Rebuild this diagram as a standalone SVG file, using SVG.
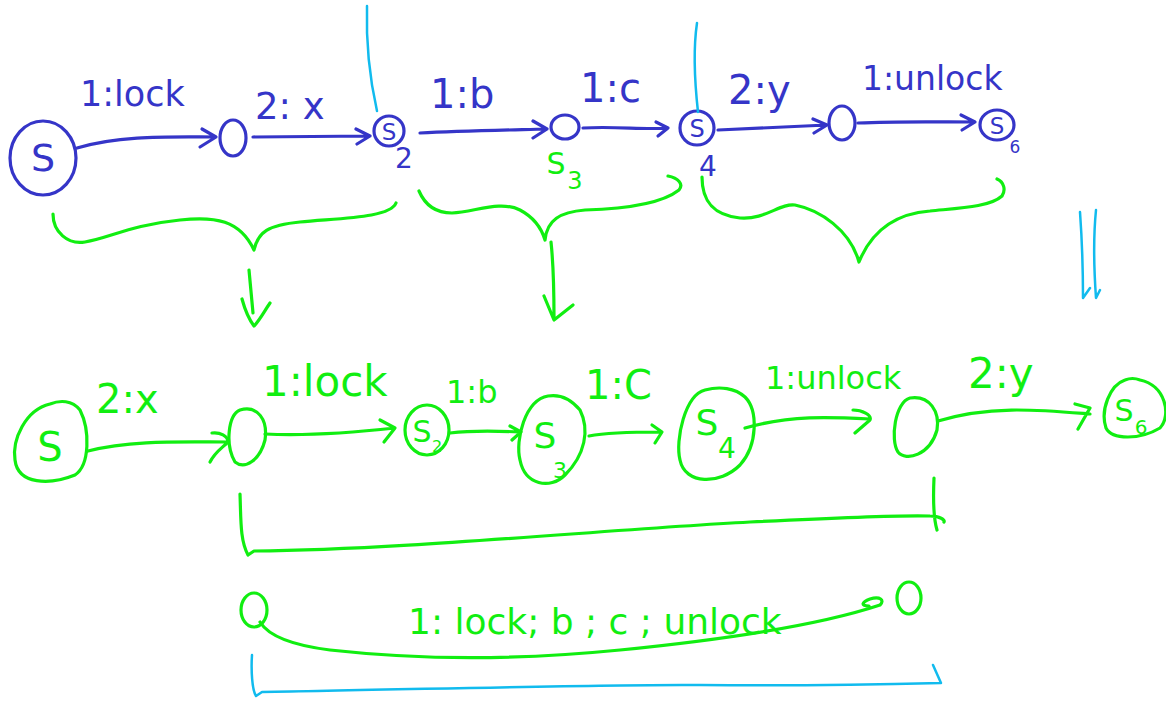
<svg xmlns="http://www.w3.org/2000/svg" width="1166" height="702" viewBox="0 0 1166 702">
<style>
.b{fill:none;stroke:#3535c8;stroke-width:3.2;stroke-linecap:round;stroke-linejoin:round}
.g{fill:none;stroke:#11ee11;stroke-width:3.2;stroke-linecap:round;stroke-linejoin:round}
.c{fill:none;stroke:#11bbee;stroke-width:2.5;stroke-linecap:round;stroke-linejoin:round}
.tb{fill:#3535c8;font-family:"DejaVu Sans",sans-serif}
.tg{fill:#11ee11;font-family:"DejaVu Sans",sans-serif}
</style>
<rect width="1166" height="702" fill="#fff"/>

<!-- top row nodes (blue) -->
<g id="t_s"><ellipse class="b" cx="43" cy="158" rx="33" ry="37"/><text class="tb" x="43" y="171" text-anchor="middle" font-size="38">S</text></g>
<g id="t_o1"><ellipse class="b" cx="233" cy="138" rx="13" ry="18"/></g>
<g id="t_s2"><circle class="b" cx="389" cy="131" r="15"/><text class="tb" x="389" y="140" text-anchor="middle" font-size="23">S</text><text class="tb" x="404" y="168" text-anchor="middle" font-size="28">2</text></g>
<g id="t_o2"><ellipse class="b" cx="565" cy="127" rx="14" ry="12"/><text class="tg" x="556" y="174" text-anchor="middle" font-size="30">S</text><text class="tg" x="575" y="189" font-size="24" text-anchor="middle">3</text></g>
<g id="t_s4"><circle class="b" cx="697" cy="128" r="17"/><text class="tb" x="697" y="137" text-anchor="middle" font-size="24">S</text><text class="tb" x="708" y="176" text-anchor="middle" font-size="28">4</text></g>
<g id="t_o3"><ellipse class="b" cx="842" cy="123" rx="13" ry="17"/></g>
<g id="t_s6"><ellipse class="b" cx="997" cy="125" rx="17" ry="15"/><text class="tb" x="997" y="134" text-anchor="middle" font-size="23">S</text><text class="tb" x="1015" y="153" text-anchor="middle" font-size="17">6</text></g>

<!-- bottom row nodes (green) -->
<g id="b_s"><path class="g" d="M50,404 C25,410 12,440 15,460 C18,485 50,485 75,475 C90,465 90,430 80,410 C72,400 60,400 50,404 Z"/><text class="tg" x="50" y="461" text-anchor="middle" font-size="40">S</text></g>
<g id="b_o1"><path class="g" d="M240,410 C228,415 225,445 235,462 C245,470 260,460 265,440 C268,420 258,405 240,410 Z"/></g>
<g id="b_s2"><ellipse class="g" cx="427" cy="430" rx="22" ry="25"/><text class="tg" x="422" y="442" text-anchor="middle" font-size="30">S</text><text class="tg" x="437" y="452" font-size="16" text-anchor="middle">2</text></g>
<g id="b_s3"><path class="g" d="M548,396 C525,400 515,440 520,460 C525,485 550,490 565,475 C585,455 590,430 580,410 C570,398 560,394 548,396 Z"/><text class="tg" x="545" y="448" text-anchor="middle" font-size="36">S</text><text class="tg" x="560" y="478" text-anchor="middle" font-size="22">3</text></g>
<g id="b_s4"><path class="g" d="M705,390 C685,395 675,440 680,460 C685,485 720,485 740,465 C758,445 758,410 745,397 C735,388 720,386 705,390 Z"/><text class="tg" x="707" y="435" text-anchor="middle" font-size="36">S</text><text class="tg" x="727" y="458" text-anchor="middle" font-size="28">4</text></g>
<g id="b_o2"><path class="g" d="M910,398 C895,402 890,440 898,452 C906,462 930,455 937,430 C940,412 930,395 910,398 Z"/></g>
<g id="b_s6"><path class="g" d="M1125,380 C1110,385 1100,410 1106,428 C1112,440 1140,440 1160,428 C1172,415 1165,385 1140,380 C1135,378 1130,378 1125,380 Z"/><text class="tg" x="1124" y="421" text-anchor="middle" font-size="30">S</text><text class="tg" x="1141" y="434" text-anchor="middle" font-size="20">6</text></g>

<!-- summary nodes -->
<g id="c_o1"><ellipse class="g" cx="254" cy="610" rx="13" ry="17"/></g>
<g id="c_o2"><ellipse class="g" cx="909" cy="598" rx="12" ry="16"/></g>

<!-- connectors -->
<g id="connectors">
<!-- top blue arrows -->
<path class="b" d="M77,148 C120,135 170,137 216,137 M202,129 L216,137 L200,147"/>
<path class="b" d="M253,137 L370,136 M356,129 L370,136 L357,144"/>
<path class="b" d="M420,133 C460,131 510,130 547,129 M533,121 L547,129 L533,138"/>
<path class="b" d="M583,128 C615,126 645,130 668,128 M656,122 L668,128 L658,136"/>
<path class="b" d="M718,130 L827,125 M813,119 L827,125 L814,133"/>
<path class="b" d="M858,123 C900,121 940,122 975,122 M961,115 L975,122 L962,130"/>
<!-- top labels -->
<text class="tb" x="80" y="106" font-size="35">1:lock</text>
<text class="tb" x="255" y="119" font-size="37">2: x</text>
<text class="tb" x="430" y="108" font-size="40">1:b</text>
<text class="tb" x="580" y="102" font-size="40">1:c</text>
<text class="tb" x="728" y="104" font-size="40">2:y</text>
<text class="tb" x="862" y="90" font-size="33">1:unlock</text>
<!-- cyan separators -->
<path class="c" d="M367,6 C366,40 370,80 377,111"/>
<path class="c" d="M697,23 C693,50 695,85 698,112"/>
<!-- braces -->
<path class="g" d="M53,214 C53,232 68,245 85,242 C110,238 130,225 180,220 C215,216 240,220 254,250 C258,232 268,225 300,222 C340,218 390,218 396,203"/>
<path class="g" d="M249,270 L253,313 M242,299 C245,310 248,318 254,326 C260,320 265,310 270,303"/>
<path class="g" d="M419,191 C425,205 435,213 452,213 C475,212 500,200 520,210 C535,218 542,230 545,240 C547,220 560,212 585,210 C620,209 660,205 679,190 C684,184 678,178 668,176"/>
<path class="g" d="M551,242 C554,270 554,295 554,318 M544,296 L554,320 L573,305"/>
<path class="g" d="M702,177 C702,200 712,215 740,218 C765,220 780,203 795,205 C820,210 850,230 859,262 C870,235 890,214 930,211 C960,208 990,207 1002,196 C1006,190 1004,182 997,179"/>
<!-- double down arrow -->
<path class="c" d="M1080,212 C1082,240 1083,270 1083,298 L1090,288 M1096,210 C1093,240 1094,270 1096,298 L1100,290"/>
<!-- bottom green arrows -->
<path class="g" d="M88,451 C130,440 180,442 228,442 C222,448 215,452 210,462 M212,433 C220,432 228,436 228,442"/>
<path class="g" d="M265,434 C310,436 350,433 395,428 M380,420 L395,428 L384,442"/>
<path class="g" d="M450,433 C475,430 500,431 520,432 M510,426 L521,432 L512,440"/>
<path class="g" d="M589,436 C610,432 640,432 660,432 M652,425 L662,432 L655,443"/>
<path class="g" d="M745,428 C790,415 830,417 870,419 M853,410 C862,410 872,415 870,420 L855,433"/>
<path class="g" d="M938,421 C990,405 1040,410 1090,414 M1075,404 L1090,408 L1078,429"/>
<!-- bottom labels -->
<text class="tg" x="96" y="413" font-size="40">2:x</text>
<text class="tg" x="262" y="396" font-size="42">1:lock</text>
<text class="tg" x="446" y="403" font-size="32">1:b</text>
<text class="tg" x="585" y="399" font-size="40">1:C</text>
<text class="tg" x="765" y="389" font-size="32">1:unlock</text>
<text class="tg" x="968" y="388" font-size="42">2:y</text>
<!-- green bracket -->
<path class="g" d="M240,494 C241,520 240,540 248,555 L254,551 C400,550 600,530 750,522 C830,518 900,515 930,516 C940,516 945,520 944,522 M934,478 C933,500 934,520 937,530"/>
<!-- summary edge -->
<path class="g" d="M260,622 C268,635 290,645 330,650 C420,660 520,660 620,650 C720,640 820,625 880,605 C885,600 880,596 870,599 C862,602 860,606 869,606"/>
<text class="tg" x="408" y="634" font-size="36">1: lock; b ; c ; unlock</text>
<!-- cyan bracket -->
<path class="c" d="M252,655 C251,670 252,690 256,696 L262,692 C400,690 600,684 700,685 C800,686 900,684 941,683 L933,665"/>
</g>
</svg>
